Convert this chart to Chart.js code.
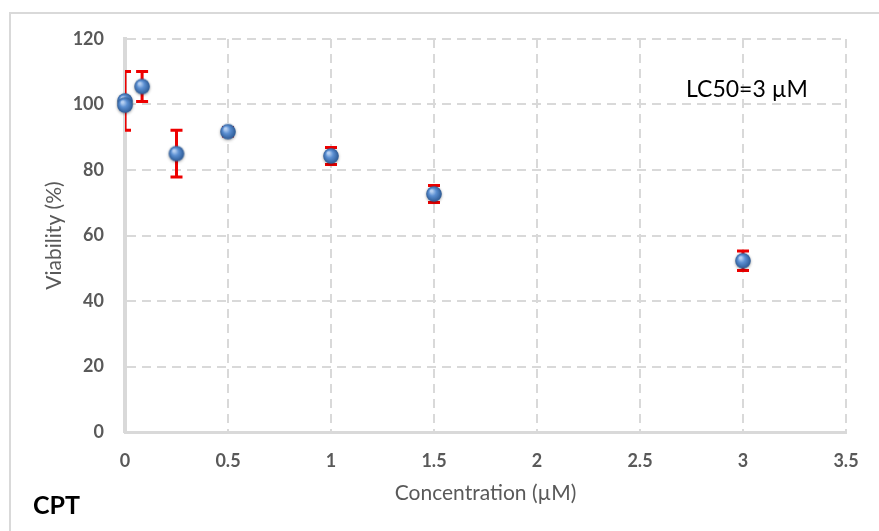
<!DOCTYPE html>
<html>
<head>
<meta charset="utf-8">
<script src="https://cdn.jsdelivr.net/npm/chart.js@4/dist/chart.umd.min.js"></script>
<style>
    html, body { margin: 0; padding: 0; background: #fff; }
    #wrap { position: relative; width: 879px; height: 531px; }
</style>
</head>
<body>
<div id="wrap"><canvas id="graph1" width="879" height="531"></canvas></div>
<script>
// CPT viability vs concentration
const concentration = [0, 0, 0.083, 0.25, 0.5, 1, 1.5, 3];        // µM
const viability     = [101.1, 99.8, 105.5, 85, 91.7, 84.3, 72.7, 52.3];  // %
const viabilityErr  = [9.0, 0, 4.6, 7.1, 1.3, 2.6, 2.6, 3.0];      // +/- %

const xTicks = { min: 0, max: 3.5, step: 0.5 };
const yTicks = { min: 0, max: 120, step: 20 };

const gridGray = '#d9d9d9';
const textGray = '#595959';
const fontName = 'Lato, "Open Sans", sans-serif';

// shaded blue ball used as the marker
function makeBall(){
    const c = document.createElement('canvas');
    c.width = 22; c.height = 22;
    const g = c.getContext('2d');
    g.shadowColor = 'rgba(0,0,0,0.35)';
    g.shadowBlur = 3;
    g.shadowOffsetY = 1;
    const grad = g.createRadialGradient(8.5, 8, 1, 11, 11, 8);
    grad.addColorStop(0, '#b6d0f2');
    grad.addColorStop(0.4, '#5b8fd2');
    grad.addColorStop(1, '#2b5892');
    g.fillStyle = grad;
    g.beginPath();
    g.arc(11, 11, 7.8, 0, Math.PI * 2);
    g.fill();
    return c;
}

// vertical error bars, drawn below the markers
const errorBars = {
    id: 'errorBars',
    beforeDatasetsDraw(chart){
        const ctx = chart.ctx;
        const xs = chart.scales.x, ys = chart.scales.y;
        const area = chart.chartArea;
        ctx.save();
        ctx.beginPath();
        ctx.rect(area.left, area.top - 10, area.right - area.left, area.bottom - area.top + 20);
        ctx.clip();
        ctx.strokeStyle = '#ee0000';
        ctx.lineWidth = 3;
        concentration.forEach((c, i) => {
            const e = viabilityErr[i];
            if (!e) return;
            const px = xs.getPixelForValue(c);
            const top = ys.getPixelForValue(viability[i] + e);
            const bot = ys.getPixelForValue(viability[i] - e);
            ctx.beginPath();
            ctx.moveTo(px, top); ctx.lineTo(px, bot);
            ctx.moveTo(px - 6, top); ctx.lineTo(px + 6, top);
            ctx.moveTo(px - 6, bot); ctx.lineTo(px + 6, bot);
            ctx.stroke();
        });
        ctx.restore();
    }
};

// outer frame and the text notes
const notes = {
    id: 'notes',
    beforeDraw(chart){
        const ctx = chart.ctx;
        ctx.save();
        ctx.strokeStyle = gridGray;
        ctx.lineWidth = 2;
        ctx.beginPath();
        ctx.moveTo(10, 531); ctx.lineTo(10, 13); ctx.lineTo(879, 13);
        ctx.stroke();
        ctx.restore();
    },
    afterDraw(chart){
        const ctx = chart.ctx;
        ctx.save();
        ctx.fillStyle = '#000';
        ctx.textBaseline = 'alphabetic';
        ctx.font = '23px ' + fontName;
        ctx.fillText('LC50=3 µM', 686, 97);
        ctx.font = 'bold 25px ' + fontName;
        ctx.fillText('CPT', 33, 514);
        ctx.restore();
    }
};

const ctx = document.getElementById('graph1');
const myChart = new Chart(ctx, {
    type: 'scatter',
    data: {
        datasets: [{
            data: concentration.map((c, i) => ({ x: c, y: viability[i] })),
            pointStyle: makeBall(),
            pointRadius: 8,
            clip: false
        }]
    },
    options: {
        responsive: false,
        animation: false,
        layout: { padding: { left: 36, top: 39, right: 33, bottom: 0 } },
        plugins: {
            legend: { display: false },
            tooltip: { enabled: false }
        },
        scales: {
            x: {
                type: 'linear',
                min: xTicks.min, max: xTicks.max,
                afterFit: s => { s.height = 99; },
                grid: { color: gridGray, lineWidth: 2, drawTicks: false },
                border: { color: gridGray, width: 3, dash: [9, 6] },
                ticks: {
                    stepSize: xTicks.step,
                    padding: 18,
                    color: textGray,
                    font: { family: fontName, size: 18, weight: 'bold' },
                    callback: v => String(v)
                },
                title: {
                    display: true,
                    text: 'Concentration (µM)',
                    color: textGray,
                    font: { family: fontName, size: 21 },
                    padding: { top: 0, bottom: 25 }
                }
            },
            y: {
                min: yTicks.min, max: yTicks.max,
                afterFit: s => { s.width = 89; },
                grid: { color: gridGray, lineWidth: 2, drawTicks: false },
                border: { color: gridGray, width: 4, dash: [9, 6] },
                ticks: {
                    stepSize: yTicks.step,
                    padding: 21,
                    color: textGray,
                    font: { family: fontName, size: 18, weight: 'bold' }
                },
                title: {
                    display: true,
                    text: 'Viability (%)',
                    color: textGray,
                    font: { family: fontName, size: 21 },
                    padding: { top: 6, bottom: 0 }
                }
            }
        }
    },
    plugins: [errorBars, notes]
});
</script>
</body>
</html>
